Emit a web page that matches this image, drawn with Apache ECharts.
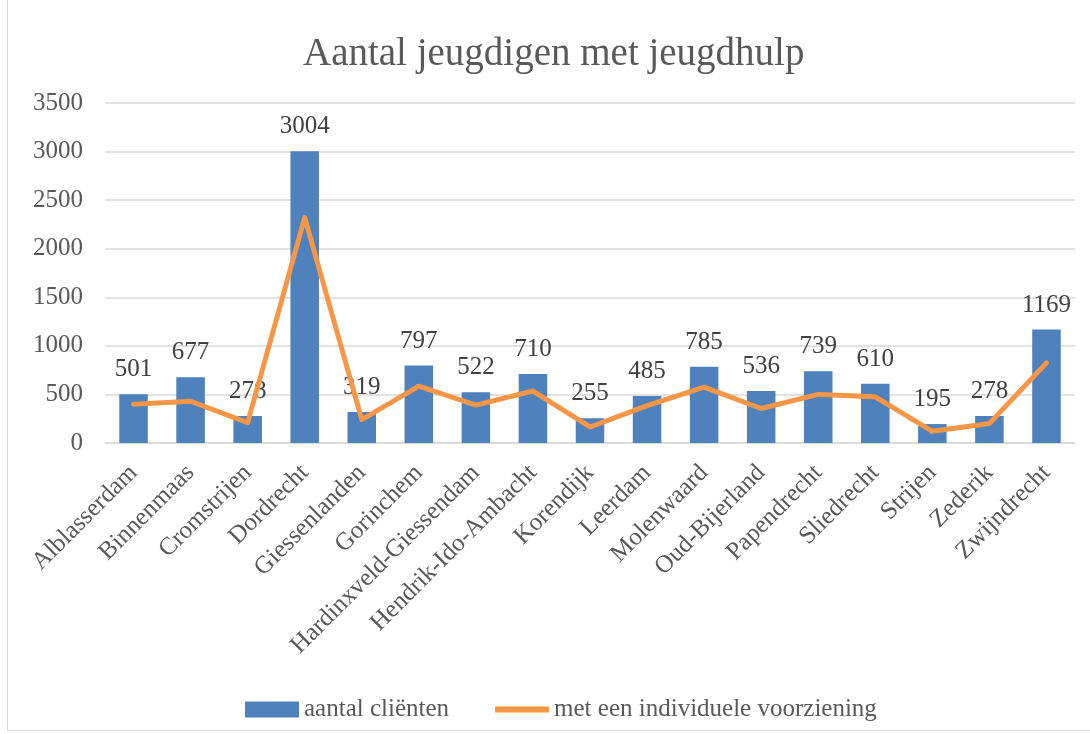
<!DOCTYPE html>
<html>
<head>
<meta charset="utf-8">
<script src="https://cdn.jsdelivr.net/npm/echarts@6/dist/echarts.min.js"></script>
<style>
  html, body { margin: 0; padding: 0; background: #fff; }
  #frame { position: absolute; left: 7px; top: -1px; width: 1090px; height: 732px; border: 1px solid #d9d9d9; box-sizing: border-box; }
  #chart { position: absolute; left: 0; top: 0; width: 1090px; height: 734px; }
</style>
</head>
<body>
<div id="frame"></div>
<div id="chart"></div>
<script>
// Aantal jeugdigen met jeugdhulp: staven = cliënten, lijn = individuele voorziening

const gemeenten = [
  'Alblasserdam', 'Binnenmaas', 'Cromstrijen', 'Dordrecht', 'Giessenlanden',
  'Gorinchem', 'Hardinxveld-Giessendam', 'Hendrik-Ido-Ambacht', 'Korendijk',
  'Leerdam', 'Molenwaard', 'Oud-Bijerland', 'Papendrecht', 'Sliedrecht',
  'Strijen', 'Zederik', 'Zwijndrecht'
]
const aantalClienten = [501, 677, 278, 3004, 319, 797, 522, 710, 255, 485, 785, 536, 739, 610, 195, 278, 1169]
const individueleVoorziening = [400, 430, 210, 2320, 240, 585, 390, 535, 165, 385, 575, 355, 500, 475, 120, 200, 825]

const font = '"Liberation Serif", "DejaVu Serif", serif'
const textColor = '#595959'
// dunne balk als legenda-icoon voor de lijn (lege subpaden houden de hoogte vast)
const lineIcon = 'path://M0,0 L0,0 M0,5 L55,5 L55,11 L0,11 Z M0,16 L0,16'

const chart = echarts.init(document.getElementById('chart'), null, { renderer: 'canvas' })

chart.setOption({
  backgroundColor: 'transparent',
  animation: false,
  textStyle: { fontFamily: font, color: textColor },
  title: {
    text: 'Aantal jeugdigen met jeugdhulp',
    left: 298,
    top: 30,
    textStyle: { fontFamily: font, fontSize: 39, fontWeight: 'normal', color: textColor },
  },
  legend: {
    bottom: 7,
    left: 240,
    itemWidth: 54,
    itemHeight: 16,
    itemGap: 46,
    textStyle: { fontFamily: font, fontSize: 25, color: textColor },
    data: [
      { name: 'aantal cliënten', icon: 'rect' },
      { name: 'met een individuele voorziening', icon: lineIcon, itemStyle: { color: '#f79646' } },
    ],
  },
  grid: { left: 105, right: 15, top: 103, bottom: 291 },
  xAxis: {
    type: 'category',
    data: gemeenten,
    axisLine: { lineStyle: { color: '#d9d9d9', width: 1.5 } },
    axisTick: { show: false },
    axisLabel: { rotate: 45, margin: 26, fontFamily: font, fontSize: 25, color: textColor, interval: 0 },
  },
  yAxis: {
    type: 'value',
    min: 0,
    max: 3500,
    interval: 500,
    axisLine: { show: false },
    axisTick: { show: false },
    splitLine: { lineStyle: { color: '#d9d9d9', width: 1.5 } },
    axisLabel: { margin: 22, fontFamily: font, fontSize: 25, color: textColor, formatter: (v) => String(v) },
  },
  series: [
    {
      name: 'aantal cliënten',
      type: 'bar',
      data: aantalClienten,
      barWidth: '50%',
      itemStyle: { color: '#4f81bd' },
      label: {
        show: true,
        position: 'top',
        distance: 12,
        fontFamily: font,
        fontSize: 25,
        color: '#404040',
      },
    },
    {
      name: 'met een individuele voorziening',
      type: 'line',
      data: individueleVoorziening,
      symbol: 'none',
      lineStyle: { color: '#f79646', width: 5, cap: 'round', join: 'round' },
      itemStyle: { color: '#f79646' },
    },
  ],
})
</script>
</body>
</html>
